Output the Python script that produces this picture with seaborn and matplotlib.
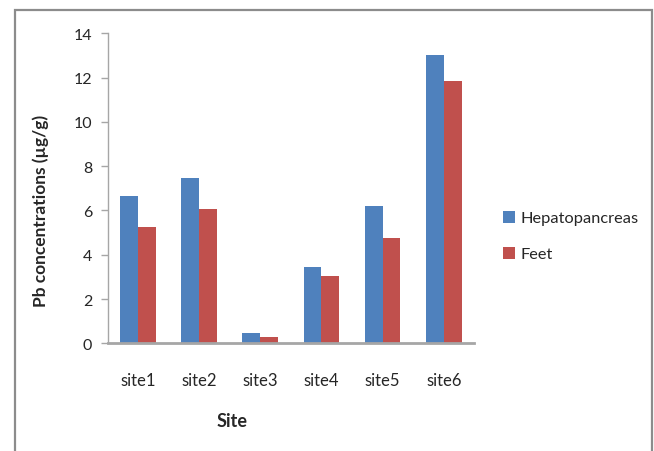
import pandas as pd
import seaborn as sns
import matplotlib
matplotlib.use("Agg")
import matplotlib.pyplot as plt
from matplotlib.patches import Rectangle

#---- data ----|
sites = ["site1", "site2", "site3", "site4", "site5", "site6"]
hepatopancreas = [6.64, 7.45, 0.45, 3.45, 6.19, 13.04]
feet = [5.25, 6.07, 0.27, 3.06, 4.76, 11.83]
series_names = ["Hepatopancreas", "Feet"]
y_ticks = [0, 2, 4, 6, 8, 10, 12, 14]

#long table for seaborn
df = pd.DataFrame({
    "Site": sites * 2,
    "value": hepatopancreas + feet,
    "tissue": [series_names[0]] * len(sites) + [series_names[1]] * len(sites),
})

sns.set_style("white")
plt.rcParams["font.family"] = ["Lato", "DejaVu Sans"]
text_col = "#262626"
axis_col = "#a6a6a6"

fig = plt.figure(figsize=(6.54, 4.52), dpi=100)
ax = fig.add_axes([107.5 / 654, 1 - 344.3 / 452, 366.8 / 654, 310 / 452])

sns.barplot(data=df, x="Site", y="value", hue="tissue", hue_order=series_names,
            palette=["#4f81bd", "#c0504d"], width=0.585, linewidth=0,
            saturation=1, ax=ax)

ax.set_ylim(0, 14)
ax.set_yticks(y_ticks)
ax.set_xlim(-0.5, len(sites) - 0.5)

#spines like the excel chart
for s in ["top", "right"]:
    ax.spines[s].set_visible(False)
ax.spines["left"].set_color(axis_col)
ax.spines["left"].set_linewidth(1.0)
ax.spines["bottom"].set_color(axis_col)
ax.spines["bottom"].set_linewidth(2.0)

ax.tick_params(axis="y", length=5, width=1, color=axis_col, direction="out",
               labelsize=11.5, labelcolor=text_col, pad=6, left=True)
ax.tick_params(axis="x", length=0, labelsize=12, labelcolor=text_col, pad=21)

#axis titles
ax.set_xlabel("Site", fontsize=13, fontweight="bold", color=text_col)
ax.xaxis.set_label_coords(0.339, -0.222)
ax.set_ylabel("Pb concentrations (µg/g)", fontsize=12.5, fontweight="bold", color=text_col)
ax.yaxis.set_label_coords(-0.16, 0.43)

#legend on the right
handles, labels = ax.get_legend_handles_labels()
ax.legend(handles, labels, loc="upper left", bbox_to_anchor=(488 / 654, 1 - 197 / 452),
          bbox_transform=fig.transFigure, frameon=False, fontsize=11.8,
          handlelength=0.75, handleheight=0.75, handletextpad=0.35,
          labelspacing=1.3, labelcolor=text_col)

#outer chart border (open at the bottom)
fig.patches.append(Rectangle((15 / 654, -0.05), (652 - 15) / 654, 1.05 - 11 / 452,
                             transform=fig.transFigure, fill=False,
                             edgecolor="#8c8c8c", linewidth=1.6))

fig.savefig("out.png", dpi=100)
